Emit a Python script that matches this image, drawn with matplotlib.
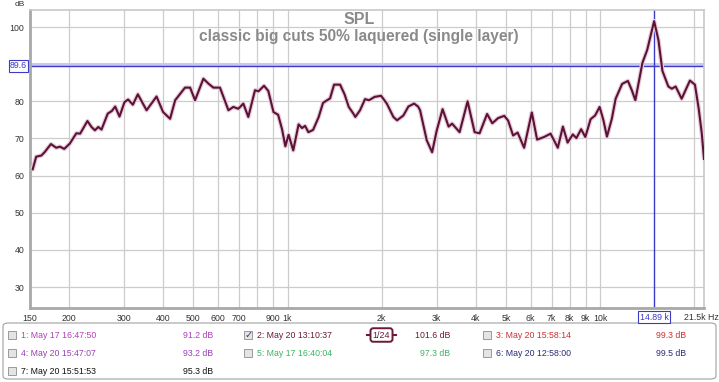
import numpy as np
import matplotlib
matplotlib.use("Agg")
import matplotlib.pyplot as plt
from matplotlib.patches import Rectangle, FancyBboxPatch
from matplotlib.lines import Line2D

plt.rcParams['font.family'] = ['Liberation Sans', 'DejaVu Sans']

# SPL trace (Hz, dB)
freq_hz = [153, 157, 163, 167, 175, 182, 187, 193, 201, 211, 217, 229, 236, 242, 248, 254,
           266, 274, 281, 290, 301, 309, 320, 332, 354, 381, 400, 421, 437, 470, 488, 506,
           538, 558, 579, 608, 647, 671, 696, 722, 749, 787, 807, 841, 868, 902, 933, 961,
           984, 1008, 1043, 1085, 1113, 1138, 1166, 1207, 1257, 1299, 1368, 1409, 1473, 1522,
           1570, 1627, 1648, 1706, 1770, 1823, 1899, 1992, 2078, 2181, 2241, 2348, 2436, 2540,
           2616, 2655, 2789, 2901, 3003, 3134, 3276, 3361, 3552, 3768, 3968, 4116, 4350, 4520,
           4718, 4938, 5079, 5269, 5446, 5713, 6047, 6287, 6620, 6945, 7323, 7603, 7872, 8180,
           8400, 8696, 8969, 9326, 9640, 9966, 10249, 10517, 10903, 11213, 11762, 12276, 12634,
           12965, 13662, 14143, 14890, 15369, 15828, 16533, 16964, 17445, 18235, 19382, 20109,
           20679, 21157, 21500]
spl_db = [61.7, 65.1, 65.4, 66.3, 68.5, 67.5, 67.8, 67.2, 68.6, 71.4, 71.3, 74.7, 73.1, 72.2,
          73.1, 72.4, 76.7, 77.4, 78.6, 75.9, 79.8, 80.5, 79.1, 81.9, 77.6, 81.3, 77.1, 75.3,
          80.3, 83.7, 83.7, 80.3, 86.1, 84.8, 83.7, 83.7, 77.6, 78.5, 78.0, 79.4, 75.8, 83.0,
          82.7, 84.2, 82.8, 77.1, 76.4, 72.4, 67.9, 71.0, 66.8, 73.8, 72.8, 73.4, 71.7, 72.3,
          75.7, 79.6, 80.8, 84.5, 84.5, 81.9, 78.5, 76.6, 75.8, 77.6, 80.6, 80.3, 81.2, 81.5,
          79.4, 75.8, 74.9, 76.2, 78.6, 79.4, 78.6, 77.6, 69.5, 66.3, 72.2, 77.9, 73.2, 74.0,
          71.7, 80.0, 71.7, 71.4, 76.6, 74.1, 75.5, 76.1, 74.8, 70.8, 71.6, 67.5, 77.0, 69.7,
          70.4, 71.3, 67.5, 73.2, 68.9, 71.1, 70.1, 72.5, 70.4, 75.2, 76.2, 78.5, 74.9, 70.5,
          75.3, 80.7, 84.7, 85.5, 83.0, 80.3, 90.4, 93.8, 101.6, 96.5, 88.2, 84.0, 83.4, 84.0,
          80.7, 85.6, 84.5, 78.0, 71.3, 64.5]

x_ticks = [150, 200, 300, 400, 500, 600, 700, 800, 900, 1000, 2000, 3000, 4000, 5000,
           6000, 7000, 8000, 9000, 10000, 20000]
x_labels = ['150', '200', '300', '400', '500', '600', '700', '', '900', '1k', '2k', '3k',
            '4k', '5k', '6k', '7k', '8k', '9k', '10k', '']
y_ticks = [30, 40, 50, 60, 70, 80, 90, 100]
y_labels = ['30', '40', '50', '60', '70', '80', '', '100']

cursor_db = 89.6
cursor_hz = 14890

legend_rows = [
    # (label, level, colour, checked, column, row)
    ('1: May 17 16:47:50', '91.2 dB', '#b040b8', False, 0, 0),
    ('2: May 20 13:10:37', '101.6 dB', '#6a1a3a', True, 1, 0),
    ('3: May 20 15:58:14', '99.3 dB', '#c83232', False, 2, 0),
    ('4: May 20 15:47:07', '93.2 dB', '#9a40b8', False, 0, 1),
    ('5: May 17 16:40:04', '97.3 dB', '#3cb464', False, 1, 1),
    ('6: May 20 12:58:00', '99.5 dB', '#2a2a78', False, 2, 1),
    ('7: May 20 15:51:53', '95.3 dB', '#111111', False, 0, 2),
]

W, H = 719, 382
fig = plt.figure(figsize=(W / 100, H / 100), dpi=100)
fig.patch.set_facecolor('white')


def px(x, y):
    return x / W, 1 - y / H


ax = fig.add_axes([30 / W, 1 - 308 / H, 674 / W, 298 / H])
ax.set_xscale('log')
ax.set_xlim(150, 21500)
ax.set_ylim(24.35, 104.6)
ax.set_xticks(x_ticks)
ax.set_xticklabels(x_labels)
ax.xaxis.set_minor_locator(matplotlib.ticker.NullLocator())
ax.set_yticks(y_ticks)
ax.set_yticklabels(y_labels)
ax.tick_params(length=0, labelsize=6.3, colors='#333333', pad=4)
ax.grid(True, color='#cccccc', lw=0.9)
ax.set_axisbelow(True)
for side in ['top', 'right']:
    ax.spines[side].set_color('#c8c8c8')
    ax.spines[side].set_linewidth(1.2)
for side in ['left', 'bottom']:
    ax.spines[side].set_color('#a8a8a8')
    ax.spines[side].set_linewidth(2)

# cursor lines
ax.axhspan(cursor_db, cursor_db + 0.7, color='#c8c8f0', lw=0, zorder=1)
ax.axhline(cursor_db, color='#3a3ac4', lw=1, zorder=2)
ax.axvline(cursor_hz, color='#3a3ac4', lw=1, zorder=2)

# trace
ax.plot(freq_hz, spl_db, color='#e6ccd9', lw=3.2, solid_capstyle='round', zorder=3)
ax.plot(freq_hz, spl_db, color='#5c1236', lw=1.5, solid_joinstyle='round', zorder=4)

# titles
fig.text(*px(359, 20), 'SPL', ha='center', va='center', fontsize=11.5,
         fontweight='bold', color='#8a8a8a')
fig.text(*px(359, 37), 'classic big cuts 50% laquered (single layer)', ha='center',
         va='center', fontsize=11.2, fontweight='bold', color='#8a8a8a')
fig.text(*px(20, 5), 'dB', ha='center', va='center', fontsize=6, color='#333333')

# cursor readouts
fig.text(*px(18.5, 66), '89.6', ha='center', va='center', fontsize=6.3, color='#3a3ac4',
         bbox=dict(boxstyle='square,pad=0.15', fc='white', ec='#3a3ac4', lw=0.8))
fig.text(*px(654, 317), '14.89 k', ha='center', va='center', fontsize=6.3, color='#3a3ac4',
         bbox=dict(boxstyle='square,pad=0.15', fc='white', ec='#3a3ac4', lw=0.8))
fig.text(*px(701, 317), '21.5k Hz', ha='center', va='center', fontsize=6.3, color='#333333')

# legend panel
fig.patches.append(FancyBboxPatch(px(3, 379), 713 / W, 56 / H, boxstyle='round,pad=0,rounding_size=0.008',
                                  transform=fig.transFigure, fc='white', ec='#a0a0a0', lw=0.8))
col_x = [8, 244, 483]
lvl_x = [213, 450, 686]
row_y = [335, 353, 371]
for name, level, colour, checked, col, row in legend_rows:
    cx, cy = col_x[col], row_y[row]
    fig.patches.append(Rectangle(px(cx, cy + 4), 8 / W, 8 / H, transform=fig.transFigure,
                                 fc='#e4e4e4', ec='#9a9a9a', lw=0.7))
    if checked:
        fig.text(*px(cx + 4.5, cy), '\u2713', ha='center', va='center', fontsize=7,
                 color='#30307a', family=['DejaVu Sans'])
    fig.text(*px(cx + 13, cy), name, ha='left', va='center', fontsize=6.3, color=colour)
    fig.text(*px(lvl_x[col], cy), level, ha='right', va='center', fontsize=6.3, color=colour)

# smoothing badge for the checked trace
fig.lines.append(Line2D([367 / W, 396 / W], [1 - 335 / H, 1 - 335 / H], transform=fig.transFigure,
                        color='#6a1a3a', lw=1.5))
fig.text(*px(381.5, 335), '1/24', ha='center', va='center', fontsize=6.5, color='#6a1a3a',
         bbox=dict(boxstyle='round,pad=0.25,rounding_size=0.3', fc='white', ec='#6a1a3a', lw=1.4))

fig.savefig('out.png', dpi=100, facecolor='white')
